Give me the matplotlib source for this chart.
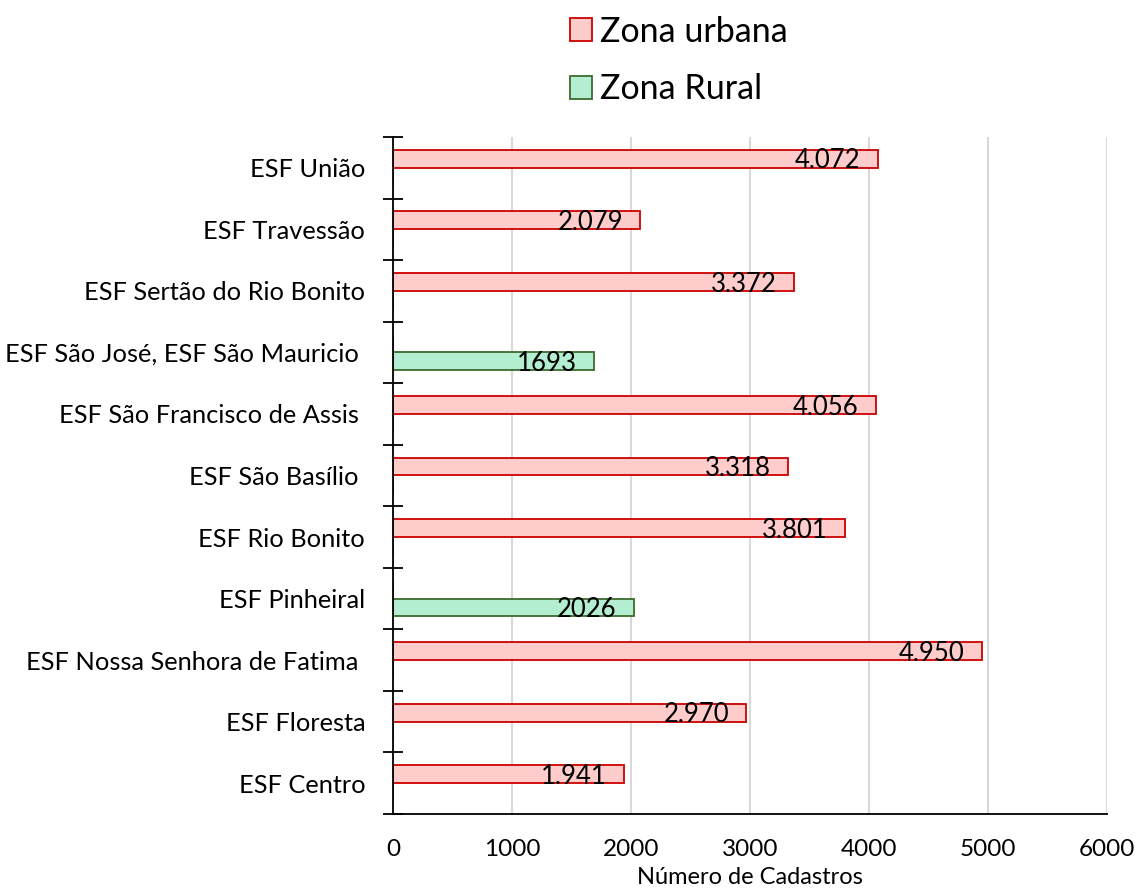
import matplotlib
matplotlib.use("Agg")
import matplotlib.pyplot as plt
from matplotlib.ticker import FixedLocator, NullFormatter
import numpy as np

plt.rcParams['font.family'] = ['Lato', 'DejaVu Sans']

categories = ["ESF Centro", "ESF Floresta", "ESF Nossa Senhora de Fatima ", "ESF Pinheiral",
              "ESF Rio Bonito", "ESF São Basílio ", "ESF São Francisco de Assis ",
              "ESF São José, ESF São Mauricio ", "ESF Sertão do Rio Bonito", "ESF Travessão",
              "ESF União"]
urbana = [1941, 2970, 4950, 0, 3801, 3318, 4056, 0, 3372, 2079, 4072]
rural = [0, 0, 0, 2026, 0, 0, 0, 1693, 0, 0, 0]
xticks = [0, 1000, 2000, 3000, 4000, 5000, 6000]
series_names = ["Zona urbana", "Zona Rural"]

fig = plt.figure(figsize=(11.39, 8.91), dpi=100)
ax = fig.add_axes([393/1139, 1-814/891, (1107-393)/1139, (814-137)/891])

y = np.arange(len(categories))
h = 0.29
b1 = ax.barh(y + h/2, urbana, height=h, color='#FFCCCC', edgecolor='#CC0000', linewidth=1.3,
             label=series_names[0], zorder=3)
b2 = ax.barh(y - h/2, rural, height=h, color='#B4EED0', edgecolor='#3D6B2F', linewidth=1.3,
             label=series_names[1], zorder=3)

for yi, v in zip(y, urbana):
    if v:
        ax.annotate(f"{v:,}".replace(",", "."), (v, yi + h/2), xytext=(-12.5, -1.5),
                    textcoords='offset points', ha='right', va='center', fontsize=18.5, zorder=4)
for yi, v in zip(y, rural):
    if v:
        ax.annotate(f"{v}", (v, yi - h/2), xytext=(-12.5, -1.5),
                    textcoords='offset points', ha='right', va='center', fontsize=18.5, zorder=4)

ax.set_xlim(0, 6000)
ax.set_ylim(-0.5, len(categories) - 0.5)
ax.set_xticks(xticks)
ax.set_xticklabels([str(t) for t in xticks], fontsize=17.5)
ax.tick_params(axis='x', length=0, pad=18)
ax.set_xlabel("Número de Cadastros", fontsize=17, labelpad=5)

ax.yaxis.set_major_locator(FixedLocator(np.arange(-0.5, len(categories), 1.0)))
ax.yaxis.set_major_formatter(NullFormatter())
ax.yaxis.set_minor_locator(FixedLocator(y))
ax.set_yticklabels(categories, minor=True, fontsize=18.3)
ax.tick_params(axis='y', which='major', direction='inout', length=14, width=1.3)
ax.tick_params(axis='y', which='minor', length=0, pad=20)

ax.grid(axis='x', color='#D9D9D9', linewidth=1.5, zorder=0)
ax.set_axisbelow(True)
for s in ['top', 'right']:
    ax.spines[s].set_visible(False)
for s in ['left', 'bottom']:
    ax.spines[s].set_linewidth(1.3)
    ax.spines[s].set_zorder(5)

fig.legend(handles=[b1, b2], labels=series_names, loc='upper left',
           bbox_to_anchor=(556/1139, 1 - 2/891), frameon=False, fontsize=24.5,
           handlelength=0.65, handleheight=0.65, handletextpad=0.25, labelspacing=0.76,
           borderaxespad=0)

fig.savefig("out.png", dpi=100)
